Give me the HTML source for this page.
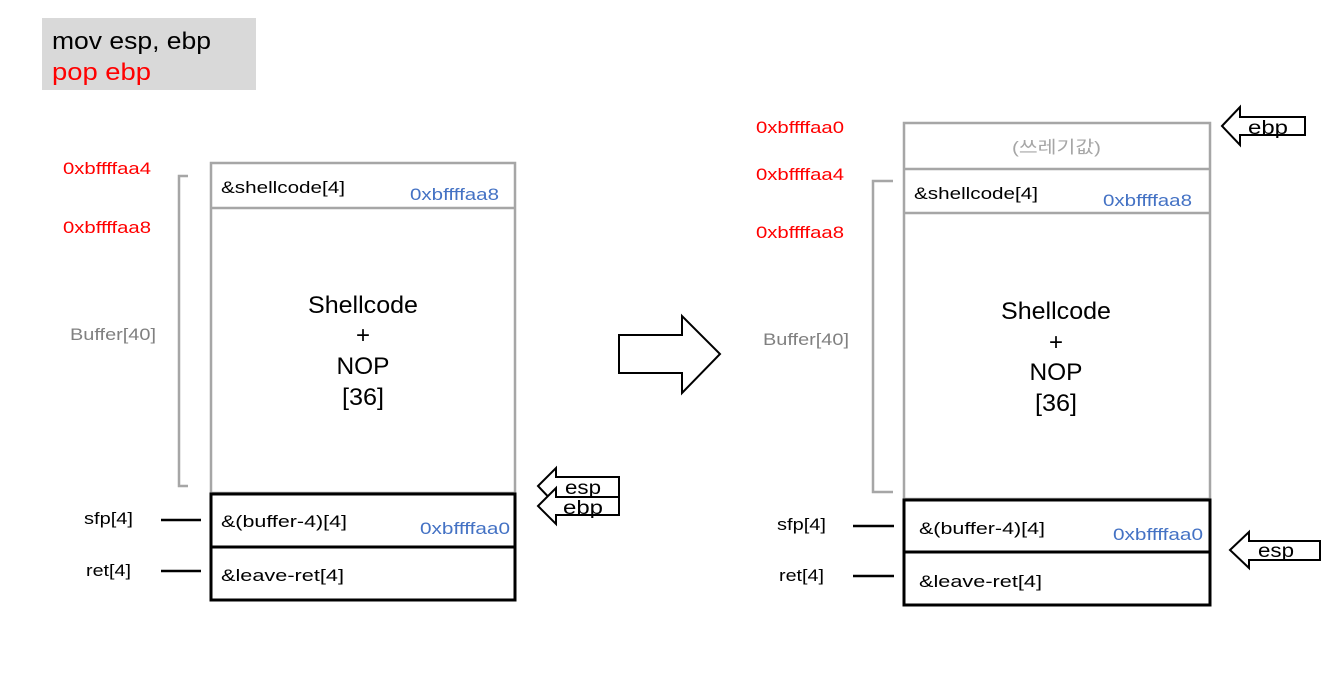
<!DOCTYPE html>
<html><head><meta charset="utf-8"><style>
html,body{margin:0;padding:0;background:#fff;}
svg{display:block;font-family:"Liberation Sans","Noto Sans CJK KR",sans-serif;}
</style></head><body>
<svg width="1330" height="682" viewBox="0 0 1330 682" xmlns="http://www.w3.org/2000/svg">
<rect x="42" y="18" width="214" height="72" fill="#d9d9d9"/>
<text x="52" y="49" font-size="24" fill="#000" textLength="159" lengthAdjust="spacingAndGlyphs">mov esp, ebp</text>
<text x="52" y="80" font-size="24" fill="#ff0000" textLength="99" lengthAdjust="spacingAndGlyphs">pop ebp</text>

<!-- Left stack -->
<g font-size="17">
<text x="63" y="174" fill="#ff0000" textLength="88" lengthAdjust="spacingAndGlyphs">0xbffffaa4</text>
<text x="63" y="233" fill="#ff0000" textLength="88" lengthAdjust="spacingAndGlyphs">0xbffffaa8</text>
<text x="70" y="340" fill="#808080" textLength="86" lengthAdjust="spacingAndGlyphs">Buffer[40]</text>
<text x="84" y="524" fill="#000" textLength="49" lengthAdjust="spacingAndGlyphs">sfp[4]</text>
<text x="86" y="576" fill="#000" textLength="45" lengthAdjust="spacingAndGlyphs">ret[4]</text>
</g>
<polyline points="188,176 179,176 179,486 188,486" fill="none" stroke="#a6a6a6" stroke-width="2.5"/>
<line x1="161" y1="520" x2="201" y2="520" stroke="#000" stroke-width="2.5"/>
<line x1="161" y1="571" x2="201" y2="571" stroke="#000" stroke-width="2.5"/>
<rect x="211" y="163" width="304" height="330" fill="none" stroke="#a6a6a6" stroke-width="2.5"/>
<line x1="211" y1="208" x2="515" y2="208" stroke="#a6a6a6" stroke-width="2.5"/>
<rect x="211" y="494" width="304" height="106" fill="none" stroke="#000" stroke-width="3"/>
<line x1="211" y1="547" x2="515" y2="547" stroke="#000" stroke-width="3"/>
<g font-size="17">
<text x="221" y="193" textLength="124" lengthAdjust="spacingAndGlyphs">&amp;shellcode[4]</text>
<text x="410" y="200" fill="#4472c4" textLength="89" lengthAdjust="spacingAndGlyphs">0xbffffaa8</text>
<text x="221" y="527" textLength="126" lengthAdjust="spacingAndGlyphs">&amp;(buffer-4)[4]</text>
<text x="420" y="534" fill="#4472c4" textLength="90" lengthAdjust="spacingAndGlyphs">0xbffffaa0</text>
<text x="221" y="581" textLength="123" lengthAdjust="spacingAndGlyphs">&amp;leave-ret[4]</text>
</g>
<g font-size="24" text-anchor="middle">
<text x="363" y="313" textLength="110" lengthAdjust="spacingAndGlyphs">Shellcode</text>
<text x="363" y="343">+</text>
<text x="363" y="374" textLength="53" lengthAdjust="spacingAndGlyphs">NOP</text>
<text x="363" y="405" textLength="42" lengthAdjust="spacingAndGlyphs">[36]</text>
</g>
<polygon points="538,486 556,468 556,477 619,477 619,497 556,497 556,505" fill="#fff" stroke="#000" stroke-width="2"/>
<text x="565" y="494" font-size="19" textLength="36" lengthAdjust="spacingAndGlyphs">esp</text>
<polygon points="538,506 556,488 556,497 619,497 619,515 556,515 556,524" fill="#fff" stroke="#000" stroke-width="2"/>
<text x="563" y="514" font-size="19" textLength="40" lengthAdjust="spacingAndGlyphs">ebp</text>

<polygon points="619,335 682,335 682,316 720,354 682,393 682,373 619,373" fill="#fff" stroke="#000" stroke-width="2"/>

<!-- Right stack -->
<g font-size="17">
<text x="756" y="133" fill="#ff0000" textLength="88" lengthAdjust="spacingAndGlyphs">0xbffffaa0</text>
<text x="756" y="180" fill="#ff0000" textLength="88" lengthAdjust="spacingAndGlyphs">0xbffffaa4</text>
<text x="756" y="238" fill="#ff0000" textLength="88" lengthAdjust="spacingAndGlyphs">0xbffffaa8</text>
<text x="763" y="345" fill="#808080" textLength="86" lengthAdjust="spacingAndGlyphs">Buffer[40]</text>
<text x="777" y="530" fill="#000" textLength="49" lengthAdjust="spacingAndGlyphs">sfp[4]</text>
<text x="779" y="581" fill="#000" textLength="45" lengthAdjust="spacingAndGlyphs">ret[4]</text>
</g>
<polyline points="893,181 873,181 873,492 893,492" fill="none" stroke="#a6a6a6" stroke-width="2.5"/>
<line x1="853" y1="526" x2="894" y2="526" stroke="#000" stroke-width="2.5"/>
<line x1="853" y1="576" x2="894" y2="576" stroke="#000" stroke-width="2.5"/>
<rect x="904" y="123" width="306" height="376" fill="none" stroke="#a6a6a6" stroke-width="2.5"/>
<line x1="904" y1="169" x2="1210" y2="169" stroke="#a6a6a6" stroke-width="2.5"/>
<line x1="904" y1="213" x2="1210" y2="213" stroke="#a6a6a6" stroke-width="2.5"/>
<rect x="904" y="500" width="306" height="105" fill="none" stroke="#000" stroke-width="3"/>
<line x1="904" y1="552" x2="1210" y2="552" stroke="#000" stroke-width="3"/>
<g font-size="17">
<text x="1012" y="153" fill="#a6a6a6" textLength="89" lengthAdjust="spacingAndGlyphs">(쓰레기값)</text>
<text x="914" y="199" textLength="124" lengthAdjust="spacingAndGlyphs">&amp;shellcode[4]</text>
<text x="1103" y="206" fill="#4472c4" textLength="89" lengthAdjust="spacingAndGlyphs">0xbffffaa8</text>
<text x="919" y="534" textLength="126" lengthAdjust="spacingAndGlyphs">&amp;(buffer-4)[4]</text>
<text x="1113" y="540" fill="#4472c4" textLength="90" lengthAdjust="spacingAndGlyphs">0xbffffaa0</text>
<text x="919" y="587" textLength="123" lengthAdjust="spacingAndGlyphs">&amp;leave-ret[4]</text>
</g>
<g font-size="24" text-anchor="middle">
<text x="1056" y="319" textLength="110" lengthAdjust="spacingAndGlyphs">Shellcode</text>
<text x="1056" y="350">+</text>
<text x="1056" y="380" textLength="53" lengthAdjust="spacingAndGlyphs">NOP</text>
<text x="1056" y="411" textLength="42" lengthAdjust="spacingAndGlyphs">[36]</text>
</g>
<polygon points="1222,126 1240,107 1240,117 1305,117 1305,135 1240,135 1240,145" fill="#fff" stroke="#000" stroke-width="2"/>
<text x="1248" y="134" font-size="19" textLength="40" lengthAdjust="spacingAndGlyphs">ebp</text>
<polygon points="1230,550 1249,532 1249,541 1320,541 1320,560 1249,560 1249,568" fill="#fff" stroke="#000" stroke-width="2"/>
<text x="1258" y="557" font-size="19" textLength="36" lengthAdjust="spacingAndGlyphs">esp</text>
</svg>
</body></html>
